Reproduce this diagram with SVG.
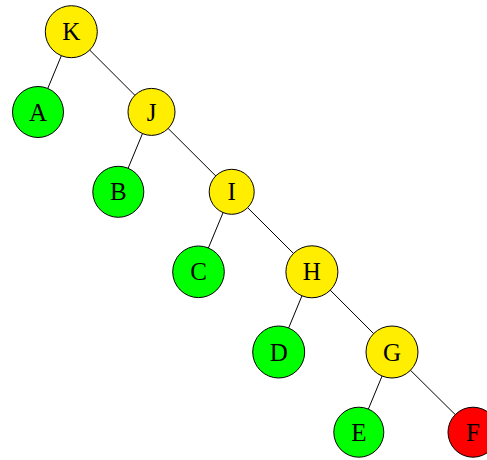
<svg xmlns="http://www.w3.org/2000/svg" width="487" height="460" viewBox="0 0 487 460">
<style>
.e{stroke:#000;stroke-width:1;fill:none}
.n circle{stroke:#000;stroke-width:1}
.y{fill:#FFEE00}.g{fill:#00FF00}.r{fill:#FF0000}
.n text{font-family:"Liberation Serif","DejaVu Serif",serif;font-size:25px;text-anchor:middle;fill:#000}
</style>
<rect width="487" height="460" fill="#fff"/>
<g id="connectors">
<line class="e" x1="71.3" y1="31.7" x2="38" y2="112"/>
<line class="e" x1="71.3" y1="31.7" x2="151.5" y2="111.9"/>
<line class="e" x1="151.5" y1="111.9" x2="118.3" y2="191.8"/>
<line class="e" x1="151.5" y1="111.9" x2="231.7" y2="191.8"/>
<line class="e" x1="231.7" y1="191.8" x2="198.5" y2="271.8"/>
<line class="e" x1="231.7" y1="191.8" x2="311.9" y2="271.8"/>
<line class="e" x1="311.9" y1="271.8" x2="278.7" y2="352"/>
<line class="e" x1="311.9" y1="271.8" x2="392" y2="352"/>
<line class="e" x1="392" y1="352" x2="358.8" y2="432.2"/>
<line class="e" x1="392" y1="352" x2="473" y2="432.2"/>
</g>
<g id="K" class="n"><circle class="y" cx="71.3" cy="31.7" r="26"/><text x="71.3" y="40.3">K</text></g>
<g id="A" class="n"><circle class="g" cx="38" cy="112" r="25.5"/><text x="38" y="120.6">A</text></g>
<g id="J" class="n"><circle class="y" cx="151.5" cy="111.9" r="23.5"/><text x="151.5" y="120.5">J</text></g>
<g id="B" class="n"><circle class="g" cx="118.3" cy="191.8" r="25.5"/><text x="118.3" y="200.4">B</text></g>
<g id="I" class="n"><circle class="y" cx="231.7" cy="191.8" r="22.5"/><text x="231.7" y="200.4">I</text></g>
<g id="C" class="n"><circle class="g" cx="198.5" cy="271.8" r="25.8"/><text x="198.5" y="280.4">C</text></g>
<g id="H" class="n"><circle class="y" cx="311.9" cy="271.8" r="26"/><text x="311.9" y="280.4">H</text></g>
<g id="D" class="n"><circle class="g" cx="278.7" cy="352" r="26"/><text x="278.7" y="360.6">D</text></g>
<g id="G" class="n"><circle class="y" cx="392" cy="352" r="26"/><text x="392" y="360.6">G</text></g>
<g id="E" class="n"><circle class="g" cx="358.8" cy="432.2" r="25"/><text x="358.8" y="440.8">E</text></g>
<g id="F" class="n"><circle class="r" cx="473" cy="432.2" r="25"/><text x="473" y="440.8">F</text></g>
</svg>
